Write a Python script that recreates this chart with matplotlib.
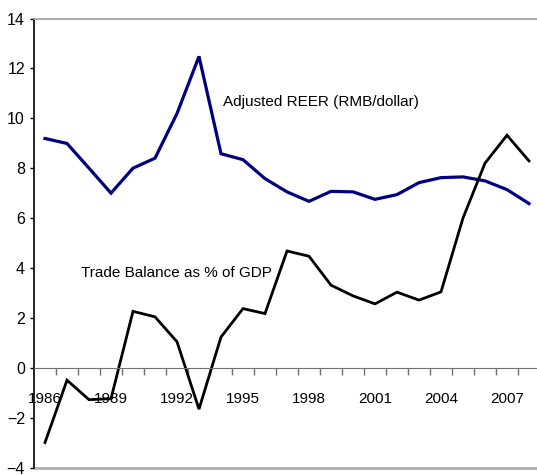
import numpy as np
import matplotlib
matplotlib.use('Agg')
import matplotlib.pyplot as plt

plt.rcParams['font.family'] = ['Liberation Sans Narrow', 'Liberation Sans', 'DejaVu Sans']

years = list(range(1986, 2009))
reer = [9.19, 8.99, 8.0, 7.0, 8.0, 8.4, 10.19, 12.48, 8.58, 8.34, 7.58,
        7.05, 6.67, 7.07, 7.05, 6.75, 6.94, 7.42, 7.62, 7.65, 7.49, 7.14, 6.58]
trade = [-3.0, -0.5, -1.28, -1.24, 2.26, 2.04, 1.04, -1.66, 1.23, 2.37, 2.17,
         4.68, 4.47, 3.31, 2.88, 2.56, 3.03, 2.71, 3.04, 6.0, 8.2, 9.32, 8.29]
yticks = list(range(-4, 15, 2))

x = np.arange(len(years))

fig = plt.figure(figsize=(5.37, 4.75), dpi=100)
ax = fig.add_axes([34/537, 7.5/475, 506/537, 449/475])

ax.plot(x, reer, color='#000080', lw=2.3, solid_joinstyle='miter')
ax.plot(x, trade, color='black', lw=2.0, solid_joinstyle='miter')

ax.set_xlim(-0.5, len(years) - 0.5)
ax.set_ylim(-4, 14)

# y axis
ax.set_yticks(yticks)
ax.tick_params(axis='y', direction='out', length=3, width=1, pad=3.5, labelsize=11.5)

# x axis sits at zero, category ticks in between
ax.spines['bottom'].set_position(('data', 0))
ax.spines['bottom'].set_color('#707070')
ax.set_xticks(x[::3])
ax.set_xticklabels([str(y) for y in years[::3]])
ax.set_xticks(x[:-1] + 0.5, minor=True)
ax.tick_params(axis='x', which='major', length=0, pad=17.5, labelsize=11)
ax.tick_params(axis='x', which='minor', direction='out', length=5, width=1, color='#707070')

ax.spines['left'].set_linewidth(1.2)
ax.spines['top'].set_color('#a0a0a0')
ax.spines['top'].set_linewidth(1.2)
ax.spines['right'].set_visible(False)
ax.axhline(-4, color='#b0b0b0', lw=2, clip_on=False)

ax.text(8.1, 10.65, 'Adjusted REER (RMB/dollar)', fontsize=11, va='center')
ax.text(1.64, 3.78, 'Trade Balance as % of GDP', fontsize=11, va='center')

plt.savefig('out.png', dpi=100)
